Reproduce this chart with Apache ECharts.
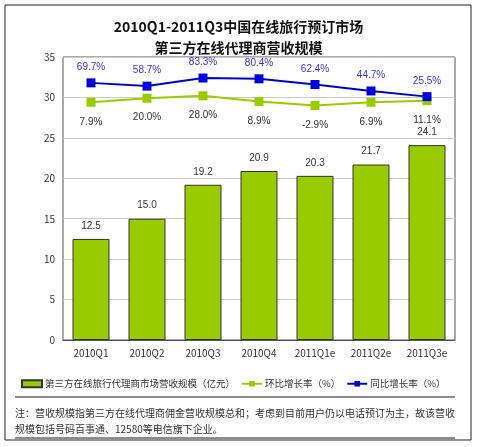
<!DOCTYPE html><html><head><meta charset="utf-8"><script src="https://cdn.jsdelivr.net/npm/echarts@6/dist/echarts.min.js"></script>
<style>html,body{margin:0;padding:0;background:#fff}#c{width:477px;height:447px}</style></head><body><div id="c"></div><script>
const categories=['2010Q1','2010Q2','2010Q3','2010Q4','2011Q1e','2011Q2e','2011Q3e'];
const revenue=[12.5,15.0,19.2,20.9,20.3,21.7,24.1];
const qoqPos=[29.4,29.9,30.2,29.5,29.0,29.4,29.6];
const qoqLabels=['7.9%','20.0%','28.0%','8.9%','-2.9%','6.9%','11.1%'];
const yoyPos=[31.8,31.4,32.4,32.3,31.6,30.8,30.1];
const yoyLabels=['69.7%','58.7%','83.3%','80.4%','62.4%','44.7%','25.5%'];
const yTicks=[0,5,10,15,20,25,30,35];
const F='"Noto Sans CJK SC", sans-serif';
const ch=echarts.init(document.getElementById('c'));
ch.setOption({
 animation:false,
 title:{text:'2010Q1-2011Q3中国在线旅行预订市场\n第三方在线代理商营收规模',left:'center',top:11,textStyle:{fontSize:14,fontWeight:'bold',color:'#111',lineHeight:21,fontFamily:F}},
 graphic:[
  {type:'rect',shape:{x:5,y:5,width:466,height:435},style:{fill:'none',stroke:'#222',lineWidth:1}},
  {type:'line',shape:{x1:15,y1:397,x2:455,y2:397},style:{stroke:'#666',lineWidth:1.5}},
  {type:'line',shape:{x1:15,y1:438,x2:455,y2:438},style:{stroke:'#666',lineWidth:1.5}},
  {type:'text',left:15,top:405,style:{text:'注：营收规模指第三方在线代理商佣金营收规模总和；考虑到目前用户仍以电话预订为主，故该营收\n规模包括号码百事通、12580等电信旗下企业。',fontSize:10,lineHeight:16,fill:'#333',fontFamily:F}}
 ],
 legend:{top:374,left:16,itemGap:6,itemWidth:20,itemHeight:7,textStyle:{fontSize:9.5,color:'#333',fontFamily:F,padding:[0,0,0,-2]},
  data:[{name:'第三方在线旅行代理商市场营收规模（亿元）',icon:'rect'},{name:'环比增长率（%）'},{name:'同比增长率（%）'}]},
 grid:{left:63,right:22,top:57,bottom:107,show:true,borderColor:'#555',borderWidth:1},
 xAxis:{type:'category',data:categories,axisTick:{show:false},axisLine:{lineStyle:{color:'#555'}},axisLabel:{fontSize:10,color:'#333',fontFamily:F}},
 yAxis:{type:'value',min:0,max:35,interval:5,axisLabel:{fontSize:10,color:'#333',fontFamily:F},splitLine:{lineStyle:{color:'#ccc'}},axisLine:{show:false},axisTick:{show:false}},
 series:[
  {name:'第三方在线旅行代理商市场营收规模（亿元）',type:'bar',data:revenue,barWidth:37,itemStyle:{color:'#99cc00',borderColor:'#333',borderWidth:1},
   label:{show:true,position:'top',distance:8,fontSize:10,color:'#333',formatter:p=>p.value.toFixed(1)}},
  {name:'环比增长率（%）',type:'line',data:qoqPos,symbol:'rect',symbolSize:9,lineStyle:{color:'#99cc00',width:2},itemStyle:{color:'#99cc00'},
   label:{show:true,position:'bottom',distance:10,fontSize:10,color:'#333',formatter:p=>qoqLabels[p.dataIndex]}},
  {name:'同比增长率（%）',type:'line',data:yoyPos,symbol:'rect',symbolSize:9,lineStyle:{color:'#0000cc',width:2},itemStyle:{color:'#0000dd'},
   label:{show:true,position:'top',distance:6,fontSize:10,color:'#3333cc',formatter:p=>yoyLabels[p.dataIndex]}}
 ]
});
</script></body></html>
